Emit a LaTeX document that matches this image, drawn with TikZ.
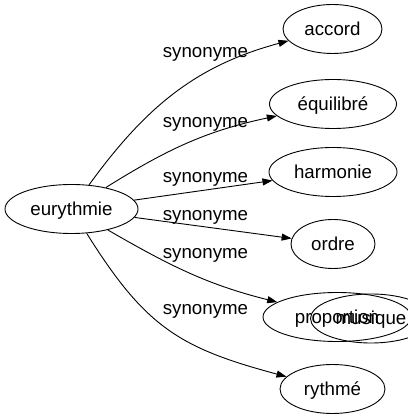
\documentclass[tikz,border=0pt]{standalone}
\usepackage{fontspec}
\setmainfont{Liberation Sans}
\usetikzlibrary{shapes.geometric, arrows.meta}
\tikzstyle{word} = [ellipse, draw, line width=0.9pt, minimum height=49pt, inner sep=0pt, text height=12.4pt, text depth=0pt]
\tikzstyle{rel} = [anchor=base, inner sep=0pt]
\tikzstyle{arrow} = [line width=0.9pt,->,>={Triangle[length=10pt,width=7pt]}]

\begin{document}
\begin{tikzpicture}[x=1pt, y=1pt, font=\fontsize{18.7}{22}\selectfont]
\useasboundingbox (0,0) rectangle (407,419);
% mots
\node[word, minimum width=133pt] (eury) at (71.5,210) {eurythmie};
\node[word, minimum width=99pt] (acc) at (332.5,390) {accord};
\node[word, minimum width=127pt] (equi) at (333,315) {équilibré};
\node[word, minimum width=128pt] (harm) at (333,247) {harmonie};
\node[word, minimum width=84pt] (ordre) at (333,175) {ordre};
\node[word, minimum width=148pt] (prop) at (337,102) {proportion};
\node[word, minimum width=121pt] (mus) at (371,100.5) {musique};
\node[word, minimum width=105pt] (ryth) at (332.5,30) {rythmé};
% relations
\node[rel] (r1) at (205.5,361.7) {synonyme};
\node[rel] (r2) at (205.5,291.7) {synonyme};
\node[rel] (r3) at (205.5,236.3) {synonyme};
\node[rel] (r4) at (205.5,198.3) {synonyme};
\node[rel] (r5) at (205.5,160.7) {synonyme};
\node[rel] (r6) at (205.5,104) {synonyme};
\draw[arrow] (eury) to[out=54, in=195] (acc);
\draw[arrow] (eury) to[out=32, in=192] (equi);
\draw[arrow] (eury) -- (harm);
\draw[arrow] (eury) -- (ordre);
\draw[arrow] (eury) to[out=-30, in=166] (prop);
\draw[arrow] (eury) to[out=-58, in=165, looseness=1.15] (ryth);
\end{tikzpicture}
\end{document}
